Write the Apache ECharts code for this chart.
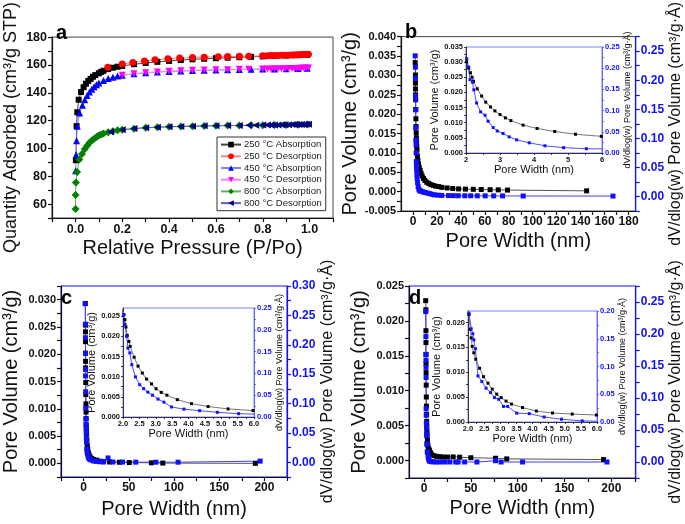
<!DOCTYPE html>
<html><head><meta charset="utf-8">
<script src="https://cdn.jsdelivr.net/npm/echarts@6/dist/echarts.min.js"></script>
<style>html,body{margin:0;padding:0;background:#fff}#c{width:685px;height:524px}</style>
</head><body><div id="c"></div><script>
// ---------- Panel a : isotherms ----------
const a250AdsP = [0.002,0.005,0.008,0.014,0.024,0.035,0.045,0.055,0.065,0.075,0.085,0.10,0.11,0.12,0.14,0.16,0.18,0.20,0.25,0.30,0.35,0.40,0.45,0.50,0.55,0.60,0.65,0.70,0.75,0.80,0.85,0.90,0.95,0.99];
const a250AdsQ = [91.5,116,126,135,140.5,144,146.5,148.5,150,151.5,152.7,154,155,155.8,157,158,158.7,159.3,160.5,161.4,162.2,162.9,163.5,164,164.4,164.8,165.2,165.5,165.8,166.1,166.4,166.7,167,167.2];
const a250DesP = [0.995,0.985,0.975,0.965,0.955,0.945,0.935,0.925,0.91,0.895,0.88,0.865,0.85,0.835,0.82,0.80,0.74,0.70,0.65,0.61,0.55,0.50,0.445,0.395,0.34,0.295,0.245,0.20,0.138];
const a250DesQ = [167.6,167.5,167.5,167.4,167.3,167.3,167.2,167.1,167.0,167.0,166.9,166.8,166.8,166.7,166.6,166.5,166.3,166.2,166.0,165.9,165.6,165.3,164.9,164.4,163.7,162.9,161.8,160.6,158.4];
const a450AdsP = [0.001,0.003,0.005,0.008,0.018,0.03,0.04,0.05,0.06,0.07,0.08,0.09,0.10,0.12,0.14,0.16,0.18,0.20,0.25,0.30,0.35,0.40,0.45,0.50,0.55,0.60,0.65,0.70,0.75,0.80,0.85,0.90,0.95,0.99];
const a450AdsQ = [84,95.5,105.5,116,125.5,131,135,138,140.5,142.5,144.3,145.8,147,148.8,150.2,151.2,152,152.6,153.6,154.3,154.9,155.3,155.6,155.9,156.1,156.3,156.5,156.7,156.8,157,157.1,157.3,157.4,157.6];
const a450DesP = [0.995,0.985,0.975,0.965,0.955,0.945,0.935,0.925,0.91,0.895,0.88,0.865,0.85,0.835,0.82,0.80,0.74,0.70,0.65,0.60,0.55,0.50,0.45,0.40,0.35,0.30,0.25,0.20];
const a450DesQ = [157.8,157.7,157.7,157.6,157.6,157.5,157.5,157.4,157.4,157.3,157.3,157.2,157.2,157.1,157.1,157.0,156.9,156.8,156.6,156.5,156.3,156.1,155.8,155.5,155.0,154.4,153.6,152.5];
const a800AdsP = [0.0005,0.001,0.002,0.007,0.017,0.028,0.04,0.05,0.06,0.07,0.08,0.09,0.10,0.11,0.12,0.14,0.16,0.18,0.20,0.25,0.30,0.35,0.40,0.45,0.50,0.55,0.60,0.65,0.70,0.75,0.80,0.85,0.90,0.95,0.99];
const a800AdsQ = [56.5,66.5,75.5,83,92,96,99.5,102,104,105.6,107,108.2,109.2,110,110.7,111.7,112.4,113,113.4,114.2,114.8,115.2,115.5,115.8,116,116.1,116.3,116.4,116.5,116.6,116.7,116.8,116.9,117,117.1];
const a800DesP = [0.995,0.985,0.975,0.965,0.955,0.945,0.935,0.925,0.91,0.895,0.88,0.865,0.85,0.835,0.82,0.80,0.77,0.74,0.70,0.65,0.60,0.55,0.50,0.45,0.40,0.35,0.30,0.25,0.20,0.15];
const a800DesQ = [117.3,117.3,117.2,117.2,117.2,117.1,117.1,117.1,117.0,117.0,117.0,116.9,116.9,116.9,116.8,116.8,116.7,116.6,116.5,116.4,116.3,116.2,116.0,115.8,115.6,115.3,114.9,114.3,113.5,112.0];
const aNames = ['250 °C Absorption','250 °C Desorption','450 °C Absorption','450 °C Desorption','800 °C Absorption','800 °C Desorption'];

// ---------- Panel b ----------
const bBlackX = [1.85,2.02,2.08,2.13,2.18,2.22,2.33,2.46,2.58,2.72,2.85,3.0,3.16,3.32,3.68,4.09,4.61,5.22,5.98,6.8,7.7,8.8,10,11.5,13.2,15,17,19,21.5,24.1,28.5,33.2,38.1,43.8,50.4,57,64.4,71.2,78.9,145];
const bBlackY = [0.0333,0.0301,0.028,0.0265,0.025,0.0237,0.0212,0.0188,0.0168,0.0152,0.0139,0.0127,0.0116,0.0107,0.0092,0.0081,0.0071,0.0062,0.0055,0.0047,0.0040,0.0034,0.0029,0.0024,0.0021,0.0018,0.0016,0.0014,0.0013,0.0011,0.00095,0.0008,0.0007,0.00065,0.0006,0.00055,0.0005,0.00045,0.0004,0.0002];
const bBlueX = [1.85,2.02,2.07,2.12,2.19,2.23,2.31,2.43,2.56,2.65,2.80,2.92,3.09,3.27,3.49,3.86,4.32,4.87,5.54,6.3,7.5,8.8,10.4,12,14,15.9,18,21,24.1,29.6,33.7,37.8,43.3,48.2,53.7,60.3,67.4,74.8,92,167];
const bBlueY = [0.242,0.2225,0.203,0.173,0.167,0.149,0.118,0.097,0.089,0.075,0.060,0.052,0.046,0.038,0.031,0.024,0.017,0.0126,0.010,0.0095,0.0085,0.0075,0.0068,0.0058,0.0048,0.0037,0.0028,0.0022,0.0018,0.0015,0.0014,0.0013,0.0012,0.0012,0.0011,0.0011,0.0010,0.0010,0.0008,0.0007];

// ---------- Panel c ----------
const cBlackX = [1.85,2.03,2.06,2.09,2.13,2.18,2.22,2.34,2.46,2.59,2.72,2.87,3.01,3.17,3.34,3.66,4.09,4.60,5.21,5.97,7.2,9,11,14.4,18,21.6,28.8,39.6,50.5,75,87.6,190];
const cBlackY = [0.0293,0.02535,0.0241,0.0223,0.0202,0.0187,0.0175,0.0148,0.0126,0.0109,0.0094,0.0082,0.0070,0.0061,0.0054,0.0043,0.0033,0.0026,0.0020,0.0016,0.0012,0.0009,0.0007,0.0006,0.0004,0.0003,0.00025,0.0002,0.00015,0.0001,0.00005,0.0];
const cBlueX = [1.85,2.02,2.06,2.11,2.15,2.21,2.27,2.38,2.51,2.63,2.76,2.90,3.07,3.25,3.48,3.86,4.34,4.88,5.53,6.5,8,10.8,14,18,22,27,32.4,43,57.7,80,104.5,195.3];
const cBlueY = [0.27,0.235,0.212,0.185,0.158,0.147,0.120,0.092,0.074,0.065,0.057,0.050,0.041,0.034,0.023,0.018,0.0145,0.0107,0.0076,0.0055,0.004,0.0023,0.0015,0.001,0.0008,0.0074,0.0005,0.0004,0.0003,0.0002,0.0002,0.002];

// ---------- Panel d ----------
const dBlackX = [1.8,2.03,2.07,2.10,2.13,2.18,2.24,2.36,2.48,2.62,2.75,2.89,3.03,3.18,3.35,3.69,4.12,4.62,5.23,5.98,7,8.1,10.5,13.4,17,20.5,25,31.1,38.1,50,76.3,88.3,191.7];
const dBlackY = [0.0229,0.0216,0.0186,0.0169,0.0152,0.0139,0.0126,0.0108,0.0091,0.0078,0.0066,0.0056,0.0049,0.0042,0.0036,0.0029,0.0022,0.0018,0.0016,0.0014,0.0011,0.0009,0.0007,0.0006,0.00055,0.0005,0.0005,0.00052,0.00048,0.0004,0.00033,0.00024,0.00014];
const dBlueX = [1.8,2.03,2.10,2.15,2.18,2.23,2.31,2.43,2.56,2.70,2.82,2.95,3.10,3.23,3.51,3.90,4.36,4.90,5.54,6.4,8,10,13.4,17,22,27.5,33.9,36.4,43.4,56.5,76.3,82.3,105.2,195.3];
const dBlueY = [0.235,0.196,0.168,0.159,0.148,0.132,0.083,0.073,0.061,0.053,0.044,0.041,0.028,0.028,0.016,0.015,0.009,0.005,0.002,0.001,0.0005,0.0002,0,0,0,0,0,0,0,0,0.002,0,0,0];

// ---------- tick label values ----------
const aXLabels = [0,0.2,0.4,0.6,0.8,1.0];
const aYLabels = [60,80,100,120,140,160,180];
const bXLabels = [0,20,40,60,80,100,120,140,160,180];
const bYLLabels = [-0.005,0,0.005,0.01,0.015,0.02,0.025,0.03,0.035,0.04];
const bYRLabels = [0,0.05,0.1,0.15,0.2,0.25];
const cXLabels = [0,50,100,150,200];
const cYLLabels = [0,0.005,0.01,0.015,0.02,0.025,0.03];
const cYRLabels = [0,0.05,0.1,0.15,0.2,0.25,0.3];
const dXLabels = [0,50,100,150,200];
const dYLLabels = [0,0.005,0.01,0.015,0.02,0.025];
const dYRLabels = [0,0.05,0.1,0.15,0.2,0.25];
const ibXLabels = [2,3,4,5,6];
const icXLabels = [2,2.5,3,3.5,4,4.5,5,5.5,6];
const ibYLLabels = [0,0.005,0.01,0.015,0.02,0.025,0.03,0.035];
const ibYRLabels = [0,0.05,0.1,0.15,0.2,0.25];
const icYLLabels = [0,0.005,0.01,0.015,0.02,0.025];
const icYRLabels = [0,0.05,0.1,0.15,0.2,0.25];
const idYLLabels = [0,0.005,0.01,0.015,0.02];
const idYRLabels = [0,0.05,0.1,0.15,0.2];

const zip = (xs, ys) => xs.map((x, i) => [x, ys[i]]);
const steps = (a, b, s) => { const r = []; for (let v = a; v <= b + s * 1e-6; v += s) r.push(Math.round(v * 1e6) / 1e6); return r; };

const BLUE = '#1010ff';
const FONT = 'Liberation Sans, Arial, sans-serif';

function axis(o) {
  const col = o.color || '#111';
  return {
    type: 'value', gridIndex: o.grid, min: o.min, max: o.max, position: o.position,
    name: o.name || '', nameLocation: 'middle', nameGap: o.nameGap, nameRotate: o.nameRotate,
    nameTextStyle: { fontSize: o.nameSize, color: o.nameColor || '#111', fontFamily: FONT },
    axisLine: { show: true, onZero: false, lineStyle: { color: col, width: o.lw || 1.2 } },
    axisTick: { show: true, length: o.tickLen || 4, inside: false, customValues: o.ticks, lineStyle: { color: col, width: o.lw || 1.2 } },
    axisLabel: { customValues: o.labels, fontSize: o.labelSize, fontWeight: 'bold', color: o.labelColor || col, margin: o.margin || 5, fontFamily: FONT,
      formatter: v => o.fmt(v), showMinLabel: true, showMaxLabel: true },
    splitLine: { show: false }
  };
}

function aSeries(name, data, color, lineColor, symbol, rotate, size) {
  return { name, type: 'line', xAxisIndex: 0, yAxisIndex: 0, data, symbol, symbolSize: size || 7, symbolRotate: rotate || 0,
    itemStyle: { color }, lineStyle: { color: lineColor, width: 1 }, showAllSymbol: true };
}
function pSeries(x, y, data, color, lineColor, size) {
  return { type: 'line', xAxisIndex: x, yAxisIndex: y, data, symbol: 'rect', symbolSize: size, itemStyle: { color },
    lineStyle: { color: lineColor, width: 1 }, showAllSymbol: true, clip: true };
}

const grids = [
  { left: 52, top: 20, width: 281, height: 198, show: true, borderColor: '#444', borderWidth: 1 },
  { left: 401, top: 20, width: 239, height: 191, show: true, borderColor: '#444', borderWidth: 1 },
  { left: 57, top: 286, width: 230, height: 191, show: true, borderColor: BLUE, borderWidth: 1 },
  { left: 409, top: 286, width: 229, height: 192, show: true, borderColor: BLUE, borderWidth: 1 },
  { left: 466, top: 47, width: 136, height: 106, show: true, borderColor: '#8080ff', borderWidth: 1, backgroundColor: '#fff' },
  { left: 123, top: 308, width: 131, height: 109, show: true, borderColor: '#8080ff', borderWidth: 1, backgroundColor: '#fff' },
  { left: 468, top: 311, width: 129, height: 111, show: true, borderColor: '#8080ff', borderWidth: 1, backgroundColor: '#fff' }
];

const f1 = v => v.toFixed(1), f2 = v => v.toFixed(2), f3 = v => v.toFixed(3), f0 = v => String(Math.round(v));
const PV = 'Pore Volume (cm³/g)';
const RT = 'dV/dlog(w) Pore Volume (cm³/g·Å)';
const PW = 'Pore Width (nm)';

const xAxes = [
  axis({ grid: 0, min: -0.1, max: 1.1, ticks: steps(-0.1, 1.1, 0.1), labels: aXLabels, fmt: f1, labelSize: 12.5, name: 'Relative Pressure (P/Po)', nameSize: 20, nameGap: 20 }),
  axis({ grid: 1, min: -10, max: 186, ticks: steps(0, 180, 10), labels: bXLabels, fmt: f0, labelSize: 12, name: PW, nameSize: 20, nameGap: 20 }),
  axis({ grid: 2, min: -25, max: 225, ticks: steps(-25, 225, 25), labels: cXLabels, fmt: f0, labelSize: 12, name: PW, nameSize: 20, nameGap: 22 }),
  axis({ grid: 3, min: -16, max: 226, ticks: steps(0, 225, 25), labels: dXLabels, fmt: f0, labelSize: 12, name: PW, nameSize: 20, nameGap: 20 }),
  axis({ grid: 4, min: 2, max: 6, ticks: steps(2, 6, 0.5), labels: ibXLabels, fmt: f0, labelSize: 7.5, name: PW, nameSize: 11, nameGap: 10, tickLen: 2, lw: 0.8, margin: 3 }),
  axis({ grid: 5, min: 2, max: 6, ticks: steps(2, 6, 0.25), labels: icXLabels, fmt: f1, labelSize: 7.5, name: PW, nameSize: 11, nameGap: 10, tickLen: 2, lw: 0.8, margin: 3 }),
  axis({ grid: 6, min: 2, max: 6, ticks: steps(2, 6, 0.25), labels: icXLabels, fmt: f1, labelSize: 7.5, name: PW, nameSize: 11, nameGap: 10, tickLen: 2, lw: 0.8, margin: 3 })
];
const yAxes = [
  axis({ grid: 0, min: 50, max: 180, position: 'left', ticks: steps(50, 180, 10), labels: aYLabels, fmt: f0, labelSize: 12.5, name: 'Quantity Adsorbed (cm³/g STP)', nameSize: 18, nameGap: 32, nameRotate: 90 }),
  axis({ grid: 1, min: -0.005, max: 0.040, position: 'left', ticks: steps(-0.005, 0.04, 0.0025), labels: bYLLabels, fmt: f3, labelSize: 11, name: PV, nameSize: 20, nameGap: 40, nameRotate: 90 }),
  axis({ grid: 1, min: -0.025, max: 0.275, position: 'right', ticks: steps(-0.025, 0.275, 0.025), labels: bYRLabels, fmt: f2, labelSize: 12, color: BLUE, name: RT, nameSize: 16, nameGap: 32, nameRotate: 90 }),
  axis({ grid: 2, min: -0.0025, max: 0.0325, position: 'left', ticks: steps(-0.0025, 0.0325, 0.0025), labels: cYLLabels, fmt: f3, labelSize: 11, name: PV, nameSize: 20, nameGap: 40, nameRotate: 90 }),
  axis({ grid: 2, min: -0.025, max: 0.30, position: 'right', ticks: steps(-0.025, 0.3, 0.025), labels: cYRLabels, fmt: f2, labelSize: 12, color: BLUE, name: RT, nameSize: 16, nameGap: 32, nameRotate: 90 }),
  axis({ grid: 3, min: -0.0025, max: 0.025, position: 'left', ticks: steps(-0.0025, 0.025, 0.0025), labels: dYLLabels, fmt: f3, labelSize: 11, name: PV, nameSize: 20, nameGap: 40, nameRotate: 90 }),
  axis({ grid: 3, min: -0.025, max: 0.275, position: 'right', ticks: steps(-0.025, 0.275, 0.025), labels: dYRLabels, fmt: f2, labelSize: 12, color: BLUE, name: RT, nameSize: 16, nameGap: 32, nameRotate: 90 }),
  axis({ grid: 4, min: 0, max: 0.035, position: 'left', ticks: steps(0, 0.035, 0.0025), labels: ibYLLabels, fmt: f3, labelSize: 7.5, name: PV, nameSize: 11, nameGap: 22, nameRotate: 90, tickLen: 2, lw: 0.8, margin: 3 }),
  axis({ grid: 4, min: 0, max: 0.25, position: 'right', ticks: steps(0, 0.25, 0.025), labels: ibYRLabels, fmt: f2, labelSize: 7.5, color: '#5050ff', labelColor: BLUE, name: RT, nameSize: 9, nameGap: 20, nameRotate: 90, tickLen: 2, lw: 0.8, margin: 3 }),
  axis({ grid: 5, min: 0, max: 0.027, position: 'left', ticks: steps(0, 0.025, 0.0025), labels: icYLLabels, fmt: f3, labelSize: 7.5, name: PV, nameSize: 11, nameGap: 23, nameRotate: 90, tickLen: 2, lw: 0.8, margin: 3 }),
  axis({ grid: 5, min: 0, max: 0.25, position: 'right', ticks: steps(0, 0.25, 0.025), labels: icYRLabels, fmt: f2, labelSize: 7.5, color: '#5050ff', labelColor: BLUE, name: RT, nameSize: 9, nameGap: 20, nameRotate: 90, tickLen: 2, lw: 0.8, margin: 3 }),
  axis({ grid: 6, min: 0, max: 0.0223, position: 'left', ticks: steps(0, 0.02, 0.0025), labels: idYLLabels, fmt: f3, labelSize: 7.5, name: PV, nameSize: 11, nameGap: 22, nameRotate: 90, tickLen: 2, lw: 0.8, margin: 3 }),
  axis({ grid: 6, min: 0, max: 0.20, position: 'right', ticks: steps(0, 0.2, 0.025), labels: idYRLabels, fmt: f2, labelSize: 7.5, color: '#5050ff', labelColor: BLUE, name: RT, nameSize: 9, nameGap: 20, nameRotate: 90, tickLen: 2, lw: 0.8, margin: 3 })
];

const series = [
  aSeries(aNames[0], zip(a250AdsP, a250AdsQ), '#000', '#444', 'rect', 0, 6),
  aSeries(aNames[1], zip(a250DesP, a250DesQ), '#ff0000', '#ff8080', 'circle', 0, 7),
  aSeries(aNames[2], zip(a450AdsP, a450AdsQ), '#0000ff', '#8080ff', 'triangle', 0, 7),
  aSeries(aNames[3], zip(a450DesP, a450DesQ), '#ff00ff', '#ff80ff', 'triangle', 180, 7),
  aSeries(aNames[4], zip(a800AdsP, a800AdsQ), '#008000', '#60b060', 'diamond', 0, 8),
  aSeries(aNames[5], zip(a800DesP, a800DesQ), '#000080', '#6060c0', 'triangle', 90, 7),
  pSeries(1, 1, zip(bBlackX, bBlackY), '#000', '#555', 5),
  pSeries(1, 2, zip(bBlueX, bBlueY), BLUE, '#4040ff', 5),
  pSeries(2, 3, zip(cBlackX, cBlackY), '#000', '#555', 5),
  pSeries(2, 4, zip(cBlueX, cBlueY), BLUE, '#4040ff', 5),
  pSeries(3, 5, zip(dBlackX, dBlackY), '#000', '#555', 5),
  pSeries(3, 6, zip(dBlueX, dBlueY), BLUE, '#4040ff', 5),
  pSeries(4, 7, zip(bBlackX, bBlackY), '#000', '#777', 3),
  pSeries(4, 8, zip(bBlueX, bBlueY), BLUE, '#5050ff', 3),
  pSeries(5, 9, zip(cBlackX, cBlackY), '#000', '#777', 3),
  pSeries(5, 10, zip(cBlueX, cBlueY), BLUE, '#5050ff', 3),
  pSeries(6, 11, zip(dBlackX, dBlackY), '#000', '#777', 3),
  pSeries(6, 12, zip(dBlueX, dBlueY), BLUE, '#5050ff', 3)
];

const letter = (t, x, y) => ({ type: 'text', left: x, top: y, z: 100, style: { text: t, font: 'bold 20px ' + FONT, fill: '#000' } });

const chart = echarts.init(document.getElementById('c'), null, { renderer: 'canvas' });
chart.setOption({
  animation: false,
  backgroundColor: '#fff',
  textStyle: { fontFamily: FONT },
  grid: grids,
  xAxis: xAxes,
  yAxis: yAxes,
  legend: {
    data: aNames, orient: 'vertical', left: 217, top: 137, itemGap: 0.5, itemWidth: 20, itemHeight: 7,
    padding: [2, 4, 2, 3], borderColor: '#333', borderWidth: 1, backgroundColor: '#fff',
    textStyle: { fontSize: 9.5, color: '#222', fontFamily: FONT, padding: [0, 0, 0, -2], lineHeight: 11.2 }
  },
  series,
  graphic: [letter('a', 56, 23), letter('b', 405, 22), letter('c', 61, 288), letter('d', 409, 288)]
});
</script></body></html>
